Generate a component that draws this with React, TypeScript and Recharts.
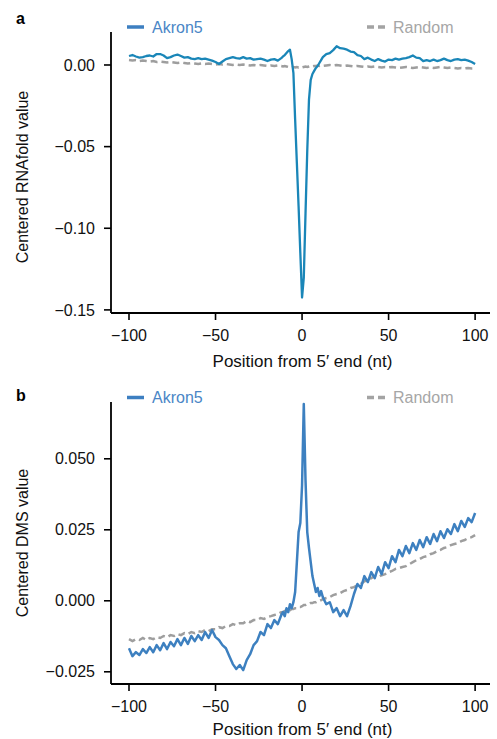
import { LineChart, Line, XAxis, YAxis, Label } from "recharts";

const FONT = '"Liberation Sans", Arial, Helvetica, sans-serif';

// positions (nt from 5' end); finer step around the 5' end
const positions = [
  -100, -98, -96, -94, -92, -90, -88, -86, -84, -82,
  -80, -78, -76, -74, -72, -70, -68, -66, -64, -62,
  -60, -58, -56, -54, -52, -50, -48, -46, -44, -42,
  -40, -38, -36, -34, -32, -30, -28, -26, -24, -22,
  -20, -18, -16, -14, -12,
  -11, -10, -9, -8, -7, -6, -5, -4, -3, -2, -1, 0, 1, 2, 3, 4, 5, 6, 7, 8, 9, 10, 11,
  12, 14, 16, 18, 20, 22, 24, 26, 28, 30,
  32, 34, 36, 38, 40, 42, 44, 46, 48, 50,
  52, 54, 56, 58, 60, 62, 64, 66, 68, 70,
  72, 74, 76, 78, 80, 82, 84, 86, 88, 90,
  92, 94, 96, 98, 100,
];

// panel a: centered RNAfold value
const akronRNAfold = [
  0.0055, 0.0061, 0.0052, 0.0045, 0.0048, 0.0055, 0.0058, 0.0052, 0.0067, 0.0067,
  0.0058, 0.0042, 0.0048, 0.0058, 0.0064, 0.0055, 0.0045, 0.0048, 0.0039, 0.0036,
  0.0042, 0.0036, 0.0039, 0.0033, 0.0027, 0.0018, 0.0006, 0.0021, 0.0036, 0.0042,
  0.0048, 0.0042, 0.0039, 0.0048, 0.0039, 0.0042, 0.0033, 0.0036, 0.0039, 0.0033,
  0.0024, 0.0033, 0.0036, 0.0027, 0.0042,
  0.0052, 0.0061, 0.0073, 0.0085, 0.0094, 0.0036, -0.0048, -0.0333, -0.06, -0.0867, -0.1152, -0.1424,
  -0.1303, -0.0909, -0.0527, -0.0212, -0.0091, -0.0055, -0.0036, -0.0018, -0.0006, 0.0012, 0.003,
  0.0048, 0.0067, 0.0073, 0.0091, 0.0115, 0.0103, 0.01, 0.0094, 0.0082, 0.0079,
  0.0061, 0.0055, 0.0036, 0.0045, 0.0033, 0.0024, 0.0036, 0.0027, 0.0021, 0.0033,
  0.003, 0.0039, 0.0033, 0.0039, 0.0042, 0.0048, 0.0058, 0.0045, 0.0042, 0.0024,
  0.003, 0.0024, 0.0033, 0.0024, 0.003, 0.0039, 0.003, 0.0024, 0.0033, 0.0036,
  0.003, 0.0033, 0.0027, 0.0018, 0.0006,
];

const randomRNAfold = [
  0.003, 0.0027, 0.003, 0.0024, 0.0027, 0.0024, 0.0021, 0.0024, 0.0018, 0.0021,
  0.0018, 0.0015, 0.0018, 0.0015, 0.0012, 0.0015, 0.0012, 0.0009, 0.0012, 0.0009,
  0.0006, 0.0009, 0.0006, 0.0009, 0.0006, 0.0003, 0.0006, 0.0003, 0.0006, 0.0003,
  0.0, 0.0003, 0.0, 0.0003, 0.0, -0.0003, 0.0, -0.0003, 0.0, -0.0003,
  -0.0006, -0.0003, -0.0006, -0.0003, -0.0006,
  -0.0009, -0.0006, -0.0009, -0.0012, -0.0012, -0.0015, -0.0012, -0.0015, -0.0012, -0.0015, -0.0012, -0.0015,
  -0.0012, -0.0009, -0.0012, -0.0009, -0.0006, -0.0009, -0.0006, -0.0006, -0.0003, -0.0006, -0.0003,
  -0.0006, -0.0003, 0.0, -0.0003, 0.0, -0.0003, -0.0006, -0.0003, -0.0006, -0.0009,
  -0.0006, -0.0009, -0.0012, -0.0009, -0.0012, -0.0009, -0.0012, -0.0015, -0.0012, -0.0015,
  -0.0012, -0.0015, -0.0018, -0.0015, -0.0012, -0.0015, -0.0018, -0.0015, -0.0012, -0.0015,
  -0.0018, -0.0015, -0.0018, -0.0015, -0.0012, -0.0015, -0.0018, -0.0015, -0.0018, -0.0021,
  -0.0018, -0.0021, -0.0018, -0.0021, -0.0021,
];

// panel b: centered DMS value
const akronDMS = [
  -0.0167, -0.0195, -0.0181, -0.0191, -0.017, -0.0184, -0.0163, -0.0181, -0.0156, -0.0174,
  -0.0149, -0.017, -0.0145, -0.016, -0.0135, -0.0156, -0.0131, -0.0152, -0.0124, -0.0142,
  -0.0121, -0.0138, -0.011, -0.0131, -0.0103, -0.0128, -0.0138, -0.0156, -0.0167, -0.0195,
  -0.0223, -0.024, -0.0226, -0.0244, -0.0209, -0.0188, -0.0156, -0.0142, -0.011, -0.0121,
  -0.0082, -0.0096, -0.0068, -0.0082, -0.005,
  -0.004, -0.0054, -0.0026, -0.004, -0.0012, -0.0026, -0.0005, 0.0031, 0.0136, 0.0242, 0.0274, 0.0407,
  0.0693, 0.0425, 0.0242, 0.0186, 0.0136, 0.0087, 0.0059, 0.0031, 0.0045, 0.0017, 0.0034,
  0.0013, -0.0012, -0.0005, -0.004, -0.0026, -0.0054, -0.0033, -0.0054, -0.0019, 0.0024,
  0.0059, 0.0045, 0.0087, 0.0066, 0.0101, 0.008, 0.0119, 0.0094, 0.0136, 0.0115,
  0.0157, 0.0136, 0.0179, 0.0157, 0.0193, 0.0168, 0.0203, 0.0179, 0.0214, 0.0189,
  0.0224, 0.02, 0.0235, 0.021, 0.0245, 0.0221, 0.0252, 0.0235, 0.027, 0.0245,
  0.0281, 0.026, 0.0291, 0.0277, 0.0309,
];

const randomDMS = [
  -0.0135, -0.0142, -0.0135, -0.0138, -0.0131, -0.0138, -0.0131, -0.0135, -0.0128, -0.0131,
  -0.0124, -0.0128, -0.0121, -0.0124, -0.0117, -0.0121, -0.0114, -0.0117, -0.011, -0.0114,
  -0.0107, -0.011, -0.0103, -0.0107, -0.01, -0.01, -0.0093, -0.0096, -0.0089, -0.0089,
  -0.0082, -0.0086, -0.0079, -0.0079, -0.0071, -0.0075, -0.0068, -0.0068, -0.0061, -0.0064,
  -0.0057, -0.0054, -0.005, -0.0047, -0.004,
  -0.004, -0.0036, -0.0036, -0.0033, -0.0033, -0.0029, -0.0029, -0.0026, -0.0026, -0.0022, -0.0022, -0.0019,
  -0.0015, -0.0015, -0.0012, -0.0012, -0.0008, -0.0008, -0.0005, -0.0005, -0.0001, -0.0001, 0.0002,
  0.0006, 0.001, 0.0013, 0.002, 0.0024, 0.0027, 0.0034, 0.0038, 0.0045, 0.0048,
  0.0055, 0.0059, 0.0069, 0.0073, 0.008, 0.0087, 0.0083, 0.009, 0.0094, 0.0101,
  0.0105, 0.0112, 0.0115, 0.0119, 0.0122, 0.0129, 0.0136, 0.0143, 0.0147, 0.0154,
  0.0157, 0.0164, 0.0168, 0.0175, 0.0179, 0.0186, 0.0189, 0.0196, 0.02, 0.0203,
  0.021, 0.0214, 0.0221, 0.0224, 0.0231,
];

const xTicks = [-100, -50, 0, 50, 100];
const rnaTicks = [-0.15, -0.1, -0.05, 0];
const dmsTicks = [-0.025, 0, 0.025, 0.05];

const dataA = positions.map((pos, i) => ({ pos, akron: akronRNAfold[i], random: randomRNAfold[i] }));
const dataB = positions.map((pos, i) => ({ pos, akron: akronDMS[i], random: randomDMS[i] }));

const minus = (s: string) => s.replace("-", "\u2212");

const tickStyle = { fill: "#111", fontSize: 16, fontFamily: FONT };
const axisLine = { stroke: "#000", strokeWidth: 1.8 };
const tickLine = { stroke: "#000", strokeWidth: 1.6 };

function YTitle({ text, cy }: { text: string; cy: number }) {
  return (
    <text
      x={22}
      y={cy}
      transform={`rotate(-90, 22, ${cy})`}
      textAnchor="middle"
      dominantBaseline="central"
      fontSize={16}
      fontFamily={FONT}
      fill="#111"
    >
      {text}
    </text>
  );
}

function LegendRow({ y, akronColor }: { y: number; akronColor: string }) {
  return (
    <g fontFamily={FONT} fontSize={16}>
      <line x1={127} x2={144} y1={y - 5.5} y2={y - 5.5} stroke={akronColor} strokeWidth={3.5} />
      <text x={152} y={y} fill="#4a86c6">Akron5</text>
      <line x1={367} x2={388} y1={y - 5.5} y2={y - 5.5} stroke="#a3a3a3" strokeWidth={3.5} strokeDasharray="7 4" />
      <text x={393} y={y} fill="#a6a6a6">Random</text>
    </g>
  );
}

export default function App() {
  return (
    <div style={{ position: "absolute", left: 0, top: 0, width: 497, height: 739, background: "#fff", overflow: "hidden" }}>
      <div style={{ position: "absolute", left: 0, top: 0 }}>
        <LineChart width={497} height={372} data={dataA} margin={{ top: 32, right: 7, bottom: 0, left: 0 }}>
          <XAxis
            dataKey="pos"
            type="number"
            domain={[-110.4, 108.6]}
            allowDataOverflow
            ticks={xTicks}
            tickFormatter={(v: number) => minus(String(v))}
            tick={tickStyle}
            tickSize={7}
            tickMargin={10}
            axisLine={axisLine}
            tickLine={tickLine}
            height={59}
          >
            <Label value="Position from 5′ end (nt)" position="insideBottom" offset={5} dx={2} fontSize={17} fontFamily={FONT} fill="#111" />
          </XAxis>
          <YAxis
            type="number"
            domain={[-0.1519, 0.0202]}
            allowDataOverflow
            ticks={rnaTicks}
            tickFormatter={(v: number) => minus(v.toFixed(2))}
            tick={tickStyle}
            tickSize={7}
            tickMargin={9}
            axisLine={axisLine}
            tickLine={tickLine}
            width={111}
          >
            <Label content={() => <YTitle text="Centered RNAfold value" cy={177} />} />
          </YAxis>
          <Line type="linear" dataKey="random" stroke="#9e9e9e" strokeWidth={2.5} strokeDasharray="7 4" dot={false} isAnimationActive={false} />
          <Line type="linear" dataKey="akron" stroke="#1a86b8" strokeWidth={2.3} strokeLinejoin="round" dot={false} isAnimationActive={false} />
        </LineChart>
      </div>
      <div style={{ position: "absolute", left: 0, top: 370 }}>
        <LineChart width={497} height={369} data={dataB} margin={{ top: 32, right: 7, bottom: 0, left: 0 }}>
          <XAxis
            dataKey="pos"
            type="number"
            domain={[-110.4, 108.6]}
            allowDataOverflow
            ticks={xTicks}
            tickFormatter={(v: number) => minus(String(v))}
            tick={tickStyle}
            tickSize={7}
            tickMargin={10}
            axisLine={axisLine}
            tickLine={tickLine}
            height={55}
          >
            <Label value="Position from 5′ end (nt)" position="insideBottom" offset={4} dx={2} fontSize={17} fontFamily={FONT} fill="#111" />
          </XAxis>
          <YAxis
            type="number"
            domain={[-0.0293, 0.07]}
            allowDataOverflow
            ticks={dmsTicks}
            tickFormatter={(v: number) => minus(v.toFixed(3))}
            tick={tickStyle}
            tickSize={7}
            tickMargin={9}
            axisLine={axisLine}
            tickLine={tickLine}
            width={111}
          >
            <Label content={() => <YTitle text="Centered DMS value" cy={173} />} />
          </YAxis>
          <Line type="linear" dataKey="random" stroke="#9e9e9e" strokeWidth={2.5} strokeDasharray="7 4" dot={false} isAnimationActive={false} />
          <Line type="linear" dataKey="akron" stroke="#3d80c0" strokeWidth={2.5} strokeLinejoin="round" dot={false} isAnimationActive={false} />
        </LineChart>
      </div>
      <svg width={497} height={739} style={{ position: "absolute", left: 0, top: 0, pointerEvents: "none" }}>
        <text x={16} y={24} fontFamily={FONT} fontSize={16} fontWeight="bold" fill="#000">a</text>
        <text x={16} y={401} fontFamily={FONT} fontSize={16} fontWeight="bold" fill="#000">b</text>
        <LegendRow y={32.5} akronColor="#3d7fc1" />
        <LegendRow y={403} akronColor="#3d7fc1" />
      </svg>
    </div>
  );
}
